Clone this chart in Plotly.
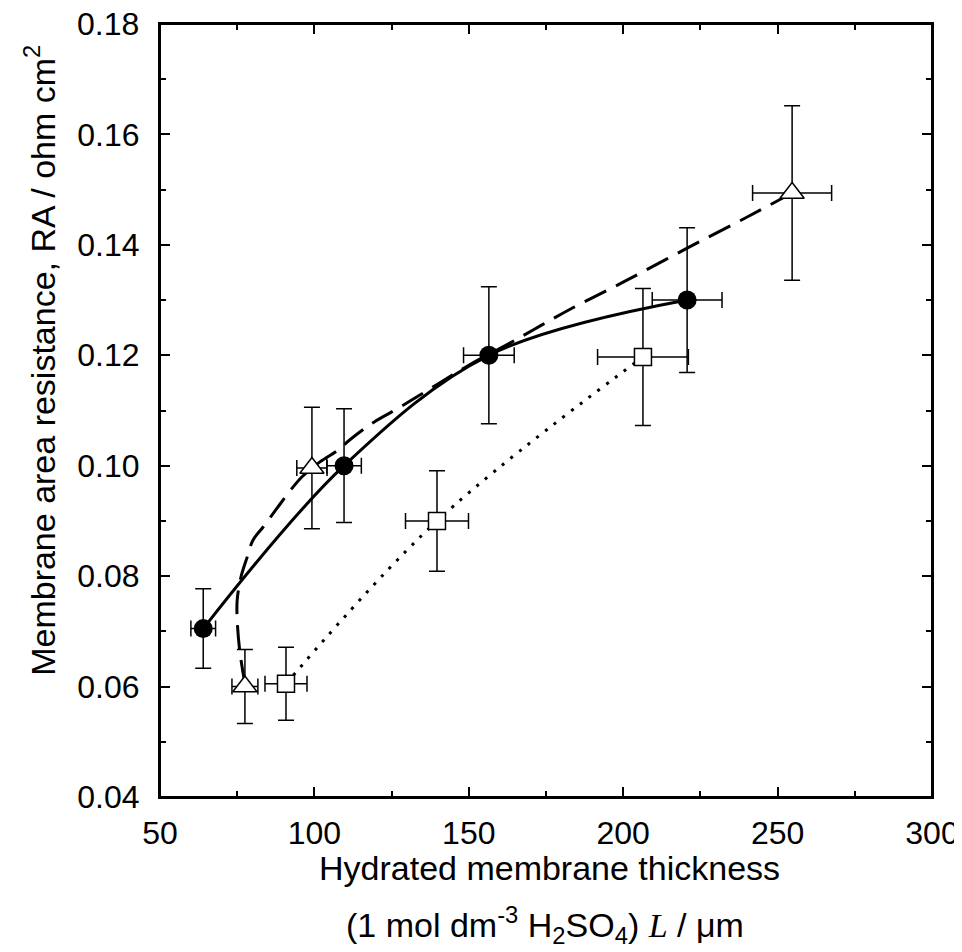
import plotly.graph_objects as go

# filled circles (solid line)
circ_x = [64.0, 109.6, 156.5, 220.7]
circ_y = [0.0705, 0.1000, 0.1200, 0.1300]
circ_xerr = [4.0, 5.6, 8.2, 11.3]
circ_yerr = [0.0072, 0.0103, 0.0124, 0.0131]

# open triangles (dashed line)
tri_x = [77.5, 99.2, 254.7]
tri_y = [0.0600, 0.0996, 0.1494]
tri_xerr = [4.2, 4.9, 12.8]
tri_yerr = [0.0067, 0.0110, 0.0158]

# open squares (dotted line)
sq_x = [90.8, 139.7, 206.4]
sq_y = [0.0605, 0.0900, 0.1197]
sq_xerr = [6.8, 10.2, 14.7]
sq_yerr = [0.0066, 0.0091, 0.0124]

# dashed fit curve
dash_x = [77.5, 75.8, 75.0, 75.0, 76.2, 78.2, 80.1, 83.4, 87.9, 91.5, 96.0, 101.8,
          107.6, 111.5, 119.0, 127.1, 140.0, 150.0, 163.3, 173.7, 183.7, 201.2,
          220.7, 240.0, 254.7]
dash_y = [0.0605, 0.0666, 0.0721, 0.0757, 0.0798, 0.0834, 0.0865, 0.0889, 0.0923,
          0.0950, 0.0980, 0.1007, 0.1028, 0.1047, 0.1078, 0.1104, 0.1148, 0.1182,
          0.1222, 0.1255, 0.1286, 0.1336, 0.1394, 0.1450, 0.1494]

# tick labels
x_ticks = [50, 100, 150, 200, 250, 300]
y_ticks = [0.04, 0.06, 0.08, 0.10, 0.12, 0.14, 0.16, 0.18]
y_ticktext = ["0.04", "0.06", "0.08", "0.10", "0.12", "0.14", "0.16", "0.18"]

FONT = "Liberation Sans, Arial, sans-serif"
BLACK = "#000000"

fig = go.Figure()

# curves first so markers sit on top
fig.add_trace(go.Scatter(x=circ_x, y=circ_y, mode="lines", line_shape="spline",
                         line=dict(color=BLACK, width=3), hoverinfo="skip"))
fig.add_trace(go.Scatter(x=dash_x, y=dash_y, mode="lines", line_shape="spline",
                         line=dict(color=BLACK, width=3, dash="24px,11px"), hoverinfo="skip"))
fig.add_trace(go.Scatter(x=sq_x, y=sq_y, mode="lines", line_shape="spline",
                         line=dict(color=BLACK, width=3, dash="3px,8px"), hoverinfo="skip"))


def err(vals):
    return dict(type="data", array=vals, visible=True, color=BLACK, thickness=1.5, width=8)


fig.add_trace(go.Scatter(x=circ_x, y=circ_y, mode="markers",
                         marker=dict(symbol="circle", size=19, color=BLACK),
                         error_x=err(circ_xerr), error_y=err(circ_yerr)))
fig.add_trace(go.Scatter(x=tri_x, y=tri_y, mode="markers",
                         marker=dict(symbol="triangle-up", size=21, color="white",
                                     line=dict(color=BLACK, width=1.5)),
                         error_x=err(tri_xerr), error_y=err(tri_yerr)))
fig.add_trace(go.Scatter(x=sq_x, y=sq_y, mode="markers",
                         marker=dict(symbol="square", size=17, color="white",
                                     line=dict(color=BLACK, width=1.5)),
                         error_x=err(sq_xerr), error_y=err(sq_yerr)))

axis_common = dict(
    showline=True, linecolor=BLACK, linewidth=2, mirror="allticks",
    ticks="inside", ticklen=10, tickwidth=1.5, tickcolor=BLACK,
    showgrid=False, zeroline=False, automargin=False,
    tickfont=dict(family=FONT, size=32, color=BLACK),
)

fig.update_xaxes(range=[50, 300], tickmode="array", tickvals=x_ticks, ticklabelstandoff=7,
                 minor=dict(dtick=25, tick0=50, ticks="inside", ticklen=6, tickwidth=1.5,
                            tickcolor=BLACK),
                 **axis_common)
# top label is placed as an annotation below, since it sits right at the page edge
fig.update_yaxes(range=[0.04, 0.18], tickmode="array", tickvals=y_ticks,
                 ticktext=y_ticktext[:-1] + [""],
                 ticklabelstandoff=12,
                 minor=dict(dtick=0.01, tick0=0.04, ticks="inside", ticklen=6, tickwidth=1.5,
                            tickcolor=BLACK),
                 **axis_common)
fig.add_annotation(text=y_ticktext[-1], xref="paper", yref="y", x=0, y=y_ticks[-1],
                   xanchor="right", yanchor="middle", xshift=-19, showarrow=False,
                   font=dict(family=FONT, size=32, color=BLACK))

# plot frame
fig.add_shape(type="rect", xref="paper", yref="paper", x0=0, y0=0, x1=1, y1=1,
              line=dict(color=BLACK, width=2))

title_font = dict(family=FONT, size=34, color=BLACK)
fig.add_annotation(text="Membrane area resistance, RA / ohm cm<sup>2</sup>",
                   xref="paper", yref="paper", x=-0.156, y=0.565, textangle=-90,
                   showarrow=False, font=title_font, xanchor="center", yanchor="middle")
fig.add_annotation(text="Hydrated membrane thickness",
                   xref="paper", yref="paper", x=0.505, y=-0.092,
                   showarrow=False, font=title_font, xanchor="center", yanchor="middle")
fig.add_annotation(text="(1 mol dm<sup>-3</sup> H<sub>2</sub>SO<sub>4</sub>) "
                        "<span style=\"font-family:'Liberation Serif', serif\"><i>L</i></span> / μm",
                   xref="paper", yref="paper", x=0.499, y=-0.166,
                   showarrow=False, font=title_font, xanchor="center", yanchor="middle")

# the page body adds an 8px offset; margins are set so the plot box lands where it should
fig.update_layout(
    width=962, height=952,
    margin=dict(l=152, r=38, t=16, b=163),
    paper_bgcolor="white", plot_bgcolor="white",
    showlegend=False,
    font=dict(family=FONT, color=BLACK),
)

fig.write_html("out.html")
